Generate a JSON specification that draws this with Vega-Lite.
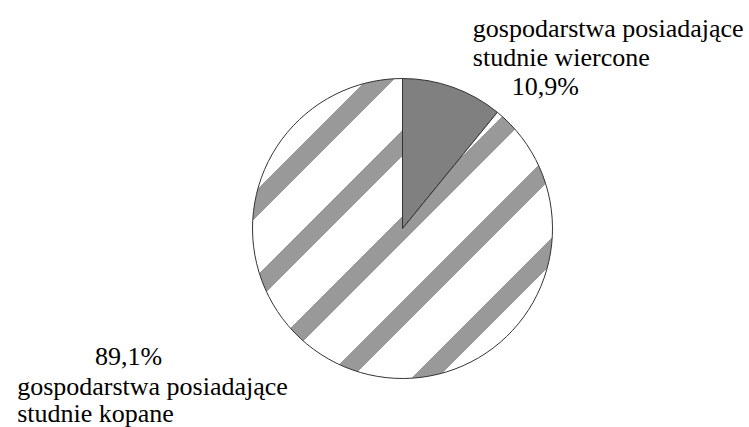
{
  "$schema": "https://vega.github.io/schema/vega-lite/v6.json",
  "autosize": {"type": "fit", "contains": "padding"},
  "width": 749,
  "height": 427,
  "padding": {"left": 45, "top": 30, "right": 0, "bottom": 0},
  "background": "white",
  "config": {"view": {"stroke": null}, "font": "Liberation Serif", "text": {"font": "Liberation Serif", "fontSize": 26, "color": "black"}},
  "data": {
    "values": [
      {"kolejnosc": 1, "kategoria": "wiercone", "udzial": 10.9, "procent": "10,9%", "opis": ["gospodarstwa posiadające", "studnie wiercone"]},
      {"kolejnosc": 2, "kategoria": "kopane", "udzial": 89.1, "procent": "89,1%", "opis": ["gospodarstwa posiadające", "studnie kopane"]}
    ]
  },
  "encoding": {
    "theta": {"field": "udzial", "type": "quantitative", "stack": true},
    "order": {"field": "kolejnosc", "type": "quantitative", "sort": "ascending"}
  },
  "layer": [
    {
      "mark": {"type": "arc", "radius": 150, "stroke": "#333333", "strokeWidth": 1},
      "encoding": {
        "fill": {
          "condition": {"test": "datum.kategoria === 'wiercone'", "value": "#808080"},
          "value": {
            "gradient": "linear", "x1": 0, "y1": 0, "x2": 1, "y2": 1,
            "stops": [
              {"offset": 0, "color": "#ffffff"},
              {"offset": 0.05, "color": "#ffffff"}, {"offset": 0.05, "color": "#999999"}, {"offset": 0.094, "color": "#999999"}, {"offset": 0.094, "color": "#ffffff"},
              {"offset": 0.193, "color": "#ffffff"}, {"offset": 0.193, "color": "#999999"}, {"offset": 0.237, "color": "#999999"}, {"offset": 0.237, "color": "#ffffff"},
              {"offset": 0.336, "color": "#ffffff"}, {"offset": 0.336, "color": "#999999"}, {"offset": 0.38, "color": "#999999"}, {"offset": 0.38, "color": "#ffffff"},
              {"offset": 0.479, "color": "#ffffff"}, {"offset": 0.479, "color": "#999999"}, {"offset": 0.523, "color": "#999999"}, {"offset": 0.523, "color": "#ffffff"},
              {"offset": 0.621, "color": "#ffffff"}, {"offset": 0.621, "color": "#999999"}, {"offset": 0.665, "color": "#999999"}, {"offset": 0.665, "color": "#ffffff"},
              {"offset": 0.764, "color": "#ffffff"}, {"offset": 0.764, "color": "#999999"}, {"offset": 0.808, "color": "#999999"}, {"offset": 0.808, "color": "#ffffff"},
              {"offset": 0.907, "color": "#ffffff"}, {"offset": 0.907, "color": "#999999"}, {"offset": 0.951, "color": "#999999"}, {"offset": 0.951, "color": "#ffffff"},
              {"offset": 1, "color": "#ffffff"}
            ]
          }
        }
      }
    },
    {
      "mark": {"type": "text", "font": "Liberation Serif", "fontSize": 26, "radius": 150, "align": "left", "baseline": "alphabetic", "dx": 59, "dy": 8},
      "encoding": {
        "text": {"condition": {"test": "datum.kategoria === 'wiercone'", "field": "procent"}, "value": ""}
      }
    },
    {
      "mark": {"type": "text", "font": "Liberation Serif", "fontSize": 26, "radius": 150, "align": "left", "baseline": "alphabetic", "dx": 20, "dy": -50, "lineHeight": 29},
      "encoding": {
        "text": {"condition": {"test": "datum.kategoria === 'wiercone'", "field": "opis"}, "value": ""}
      }
    },
    {
      "mark": {"type": "text", "font": "Liberation Serif", "fontSize": 26, "radius": 150, "align": "right", "baseline": "alphabetic", "dx": -190, "dy": -5},
      "encoding": {
        "text": {"condition": {"test": "datum.kategoria === 'kopane'", "field": "procent"}, "value": ""}
      }
    },
    {
      "mark": {"type": "text", "font": "Liberation Serif", "fontSize": 26, "radius": 150, "align": "left", "baseline": "alphabetic", "dx": -335, "dy": 25, "lineHeight": 27},
      "encoding": {
        "text": {"condition": {"test": "datum.kategoria === 'kopane'", "field": "opis"}, "value": ""}
      }
    }
  ]
}
